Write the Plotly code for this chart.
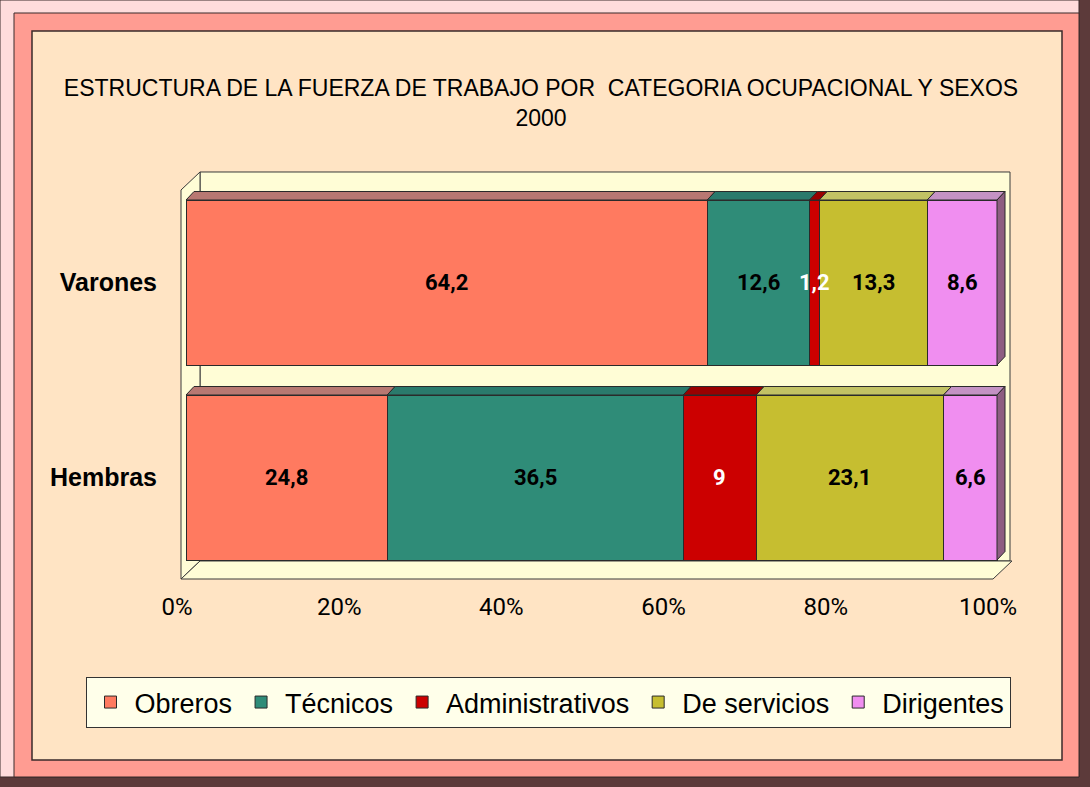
import plotly.graph_objects as go

# ---- data ----
categories = ["Varones", "Hembras"]
series_names = ["Obreros", "Técnicos", "Administrativos", "De servicios", "Dirigentes"]
obreros = [64.2, 24.8]
tecnicos = [12.6, 36.5]
administrativos = [1.2, 9.0]
servicios = [13.3, 23.1]
dirigentes = [8.6, 6.6]
x_tick_vals = [0, 20, 40, 60, 80, 100]
x_tick_text = ["0%", "20%", "40%", "60%", "80%", "100%"]
title_line1 = "ESTRUCTURA DE LA FUERZA DE TRABAJO POR  CATEGORIA OCUPACIONAL Y SEXOS"
title_line2 = "2000"

series_values = [obreros, tecnicos, administrativos, servicios, dirigentes]
front_colors = ["#FF7A60", "#2F8C78", "#CC0000", "#C6BE30", "#F08EF0"]
top_colors = ["#B87872", "#2A7A6C", "#990000", "#C2C264", "#C492C4"]
side_color = "#8E5E82"
text_colors = ["black", "black", "white", "black", "black"]

W, H = 1090, 787
def px(x):
    return x / W
def py(y):
    return 1 - y / H

# pixel geometry of plot
X0, PXU = 186.0, 8.11          # x pixel of 0 and pixels per unit
XMAX = 101.5
Y_TOP_PX, Y_BOT_PX = 185.0, 575.0
dx_units = 8.0 / PXU
dy_units = 8.5 / ((Y_BOT_PX - Y_TOP_PX) / 2.0)
bar_w = 165.0 / 195.0

ypos = [len(categories) - 1 - i for i in range(len(categories))]

fig = go.Figure()
for name, vals, col in zip(series_names, series_values, front_colors):
    fig.add_trace(go.Bar(
        y=ypos, x=vals, name=name, orientation="h",
        marker=dict(color=col, line=dict(color="#2A2A2A", width=1)),
        width=bar_w,
        hoverinfo="x+name",
    ))

shapes = []
annotations = []
# outer frame
shapes.append(dict(type="rect", xref="paper", yref="paper", x0=0, x1=1, y0=0, y1=1,
                   fillcolor="#5C3A3A", line=dict(width=0), layer="below"))
shapes.append(dict(type="rect", xref="paper", yref="paper", x0=0, x1=px(1079), y0=py(777), y1=1,
                   fillcolor="#FFDCDC", line=dict(color="#3A2A2A", width=1), layer="below"))
shapes.append(dict(type="rect", xref="paper", yref="paper", x0=px(14), x1=px(1079), y0=py(777), y1=py(13),
                   fillcolor="#FF9C92", line=dict(color="#3A2A2A", width=1), layer="below"))
shapes.append(dict(type="rect", xref="paper", yref="paper", x0=px(32), x1=px(1062), y0=py(760), y1=py(31),
                   fillcolor="#FFE4C4", line=dict(color="#3A2A2A", width=1.5), layer="below"))
# 3D walls
wall = "#FFFDD6"
def ppath(pts):
    return "M " + " L ".join(f"{px(a):.5f},{py(b):.5f}" for a, b in pts) + " Z"
shapes.append(dict(type="path", xref="paper", yref="paper",
                   path=ppath([(200, 172), (1010, 172), (1010, 561), (200, 561)]),
                   fillcolor=wall, line=dict(color="#3A3A3A", width=1), layer="below"))
shapes.append(dict(type="path", xref="paper", yref="paper",
                   path=ppath([(181, 190), (200, 172), (200, 561), (181, 579)]),
                   fillcolor=wall, line=dict(color="#3A3A3A", width=1), layer="below"))
shapes.append(dict(type="path", xref="paper", yref="paper",
                   path=ppath([(181, 579), (200, 561), (1012, 561), (993, 579)]),
                   fillcolor=wall, line=dict(color="#3A3A3A", width=1), layer="below"))

# 3D top faces, right side face and value labels from data
for ci in range(len(categories)):
    y = ypos[ci]
    yt = y + bar_w / 2
    yb = y - bar_w / 2
    total = sum(s[ci] for s in series_values)
    start = 0.0
    for si, s in enumerate(series_values):
        end = start + s[ci] * 100.0 / total
        path = (f"M {start},{yt} L {end},{yt} L {end + dx_units},{yt + dy_units} "
                f"L {start + dx_units},{yt + dy_units} Z")
        shapes.append(dict(type="path", xref="x", yref="y", path=path,
                           fillcolor=top_colors[si], line=dict(color="#2A2A2A", width=1),
                           layer="above"))
        annotations.append(dict(xref="x", yref="y", x=(start + end) / 2, y=y,
                                text=f"{s[ci]:g}".replace(".", ","), showarrow=False,
                                xanchor="center", yanchor="middle",
                                font=dict(family="Roboto, Arial", size=22,
                                          color=text_colors[si], weight="bold")))
        start = end
    path = (f"M {start},{yb} L {start},{yt} L {start + dx_units},{yt + dy_units} "
            f"L {start + dx_units},{yb + dy_units} Z")
    shapes.append(dict(type="path", xref="x", yref="y", path=path,
                       fillcolor=side_color, line=dict(color="#2A2A2A", width=1), layer="above"))

fig.update_layout(
    width=W, height=H,
    margin=dict(l=0, r=0, t=0, b=0),
    paper_bgcolor="#5C3A3A",
    plot_bgcolor="rgba(0,0,0,0)",
    barmode="stack", barnorm="percent",
    separators=",.",
    showlegend=True,
    title=dict(text=title_line1 + "<br>" + title_line2, x=px(541), xanchor="center",
               y=py(96), yanchor="top",
               font=dict(family="Liberation Sans, Arial", size=23, color="black")),
    xaxis=dict(domain=[px(X0), px(X0 + XMAX * PXU)], range=[0, XMAX],
               tickvals=x_tick_vals, ticktext=x_tick_text,
               showgrid=False, zeroline=False, showline=False, ticks="",
               ticklabelshift=-9, ticklabelstandoff=15, automargin=False,
               tickfont=dict(family="Roboto, Arial", size=24, color="black"),
               fixedrange=True),
    yaxis=dict(domain=[py(Y_BOT_PX), py(Y_TOP_PX)], range=[-0.5, 1.5],
               tickvals=ypos, ticktext=categories,
               showgrid=False, zeroline=False, showline=False, ticks="",
               ticklabelstandoff=28, automargin=False,
               tickfont=dict(family="Liberation Sans, Arial", size=25, color="black", weight="bold"),
               fixedrange=True),
    legend=dict(orientation="h", x=px(548), xanchor="center", y=py(677), yanchor="top",
                bgcolor="#FFFFEA", bordercolor="#333333", borderwidth=1,
                font=dict(family="Liberation Sans, Arial", size=27, color="black"),
                itemwidth=38, traceorder="normal"),
    shapes=shapes,
    annotations=annotations,
)

fig.write_html("out.html", config={"displayModeBar": False},
               post_script="document.body.style.margin='0';document.body.style.overflow='hidden';")
